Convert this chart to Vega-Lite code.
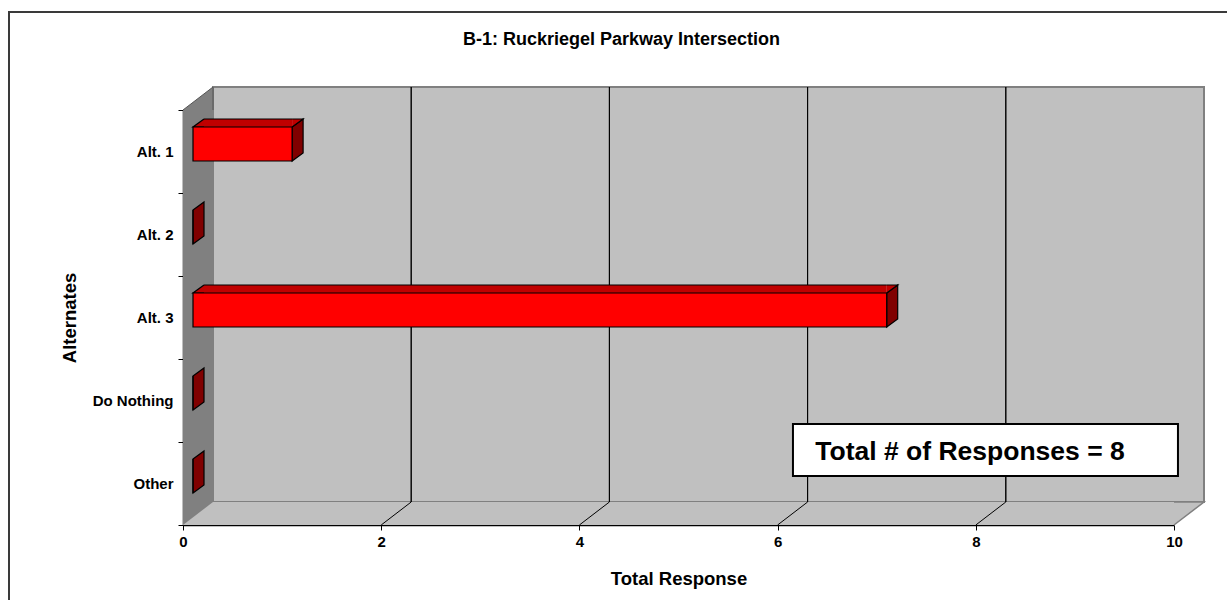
{
  "$schema": "https://vega.github.io/schema/vega-lite/v6.json",
  "width": 991,
  "height": 415,
  "autosize": {"type": "none"},
  "padding": {"left": 183, "top": 110, "right": 53, "bottom": 75},
  "background": "#ffffff",
  "config": {
    "view": {"stroke": null},
    "font": "Liberation Sans",
    "title": {"font": "Liberation Sans"},
    "axis": {
      "grid": false, "tickSize": 5, "tickColor": "#000000", "domainColor": "#000000", "domainWidth": 1.5,
      "labelFontSize": 15, "labelFontWeight": "bold", "labelColor": "#000000",
      "titleFontSize": 18.5, "titleFontWeight": "bold", "titleColor": "#000000"
    },
    "axisX": {"labelPadding": 4, "titlePadding": 20, "labelAngle": 0, "labelFlush": false},
    "axisY": {"labelPadding": 5, "titlePadding": 13, "tickBand": "extent"}
  },
  "title": {
    "text": "B-1: Ruckriegel Parkway Intersection",
    "fontSize": 18,
    "fontWeight": "bold",
    "color": "#000000",
    "anchor": "middle",
    "baseline": "alphabetic",
    "dx": -57,
    "offset": -52
  },
  "data": {
    "values": [
      {"alt": "Alt. 1", "n": 1},
      {"alt": "Alt. 2", "n": 0},
      {"alt": "Alt. 3", "n": 7},
      {"alt": "Do Nothing", "n": 0},
      {"alt": "Other", "n": 0}
    ]
  },
  "layer": [
    {
      "data": {"values": [{"alt": "Alt. 3"}]},
      "mark": {"type": "bar", "height": 800, "yOffset": 94.5, "xOffset": -174, "x2Offset": 120,
               "fill": "transparent", "stroke": "#3a3a3a", "strokeWidth": 2},
      "encoding": {
        "x": {"datum": 0, "type": "quantitative"},
        "x2": {"datum": 10},
        "y": {"field": "alt", "type": "nominal"}
      }
    },
    {
      "data": {"values": [{"alt": "Alt. 3"}]},
      "mark": {"type": "bar", "height": 415, "yOffset": -23, "xOffset": 30, "x2Offset": 30,
               "fill": "#c0c0c0", "stroke": "#808080", "strokeWidth": 2},
      "encoding": {
        "x": {"datum": 0, "type": "quantitative"},
        "x2": {"datum": 10},
        "y": {"field": "alt", "type": "nominal"}
      }
    },
    {
      "data": {"values": [{"t": 2, "alt": "Alt. 3"}, {"t": 4, "alt": "Alt. 3"}, {"t": 6, "alt": "Alt. 3"}, {"t": 8, "alt": "Alt. 3"}]},
      "mark": {"type": "bar", "height": 415, "yOffset": -23, "xOffset": 30, "x2Offset": 30,
               "fill": "transparent", "stroke": "#000000", "strokeWidth": 1},
      "encoding": {
        "x": {"field": "t", "type": "quantitative"},
        "x2": {"field": "t"},
        "y": {"field": "alt", "type": "nominal"}
      }
    },
    {
      "data": {"values": [{}]},
      "mark": {"type": "rect", "fill": "#808080", "x2Offset": 30},
      "encoding": {
        "x": {"datum": 0, "type": "quantitative"},
        "x2": {"datum": 0}
      }
    },
    {
      "data": {"values": [{"alt": "Alt. 1"}]},
      "mark": {"type": "point", "shape": "M0,-41.5 L30,-64.5 L30,-41.5", "size": 4, "filled": true,
               "fill": "#808080", "stroke": "#555555", "strokeWidth": 1, "opacity": 1},
      "encoding": {
        "x": {"datum": 0, "type": "quantitative"},
        "y": {"field": "alt", "type": "nominal"}
      }
    },
    {
      "data": {"values": [{"alt": "Other"}]},
      "mark": {"type": "bar", "height": 23, "yOffset": 30, "xOffset": 30, "fill": "#c0c0c0", "strokeWidth": 0},
      "encoding": {
        "x": {"datum": 0, "type": "quantitative"},
        "x2": {"datum": 10},
        "y": {"field": "alt", "type": "nominal"}
      }
    },
    {
      "data": {"values": [{"alt": "Other"}]},
      "mark": {"type": "point", "shape": "M0,41.5 L30,18.5 L30,41.5 Z", "size": 4, "filled": true,
               "fill": "#c0c0c0", "strokeWidth": 0, "opacity": 1},
      "encoding": {
        "x": {"datum": 0, "type": "quantitative"},
        "y": {"field": "alt", "type": "nominal"}
      }
    },
    {
      "data": {"values": [{"alt": "Other"}]},
      "mark": {"type": "point", "shape": "M0,18.5 L30,18.5 L0,41.5", "size": 4, "filled": true,
               "fill": "#c0c0c0", "stroke": "#808080", "strokeWidth": 1.5, "opacity": 1},
      "encoding": {
        "x": {"datum": 10, "type": "quantitative"},
        "y": {"field": "alt", "type": "nominal"}
      }
    },
    {
      "data": {"values": [{"t": 2, "alt": "Other"}, {"t": 4, "alt": "Other"}, {"t": 6, "alt": "Other"}, {"t": 8, "alt": "Other"}]},
      "mark": {"type": "point", "shape": "M0,41.5 L30,18.5", "size": 4, "filled": false,
               "color": "#000000", "strokeWidth": 1, "opacity": 1},
      "encoding": {
        "x": {"field": "t", "type": "quantitative"},
        "y": {"field": "alt", "type": "nominal"}
      }
    },
    {
      "mark": {"type": "point", "shape": "M10,-24.5 L21,-32.5 L21,1.5 L10,9.5 Z", "size": 4, "filled": true,
               "fill": "#800000", "stroke": "#000000", "strokeWidth": 1.2, "opacity": 1},
      "encoding": {
        "x": {"field": "n", "type": "quantitative"},
        "y": {"field": "alt", "type": "nominal"}
      }
    },
    {
      "transform": [{"filter": "datum.n > 0"}],
      "mark": {"type": "bar", "height": 8, "yOffset": -28.5, "xOffset": 10, "x2Offset": 21,
               "fill": "#c00000", "strokeWidth": 0},
      "encoding": {
        "x": {"field": "n", "type": "quantitative"},
        "x2": {"datum": 0},
        "y": {"field": "alt", "type": "nominal"}
      }
    },
    {
      "transform": [{"filter": "datum.n > 0"}],
      "mark": {"type": "point", "shape": "M21,-24.5 L10,-24.5 L21,-32.5", "size": 4, "filled": true,
               "fill": "#c00000", "stroke": "#000000", "strokeWidth": 1.2, "opacity": 1},
      "encoding": {
        "x": {"datum": 0, "type": "quantitative"},
        "y": {"field": "alt", "type": "nominal"}
      }
    },
    {
      "transform": [{"filter": "datum.n > 0"}],
      "mark": {"type": "point", "shape": "M10,-24.5 L21,-32.5 L10,-32.5", "size": 4, "filled": true,
               "fill": "#c00000", "stroke": "#000000", "strokeWidth": 1.2, "opacity": 1},
      "encoding": {
        "x": {"field": "n", "type": "quantitative"},
        "y": {"field": "alt", "type": "nominal"}
      }
    },
    {
      "transform": [{"filter": "datum.n > 0"}],
      "mark": {"type": "rule", "stroke": "#000000", "strokeWidth": 1.2, "xOffset": 10, "x2Offset": 21, "yOffset": -32.5},
      "encoding": {
        "x": {"field": "n", "type": "quantitative"},
        "x2": {"datum": 0},
        "y": {"field": "alt", "type": "nominal"}
      }
    },
    {
      "mark": {"type": "bar", "height": 34, "yOffset": -7.5, "xOffset": 10, "x2Offset": 10,
               "fill": "#ff0000", "stroke": "#000000", "strokeWidth": 1.2},
      "encoding": {
        "x": {
          "field": "n", "type": "quantitative",
          "scale": {"domain": [0, 10], "nice": false},
          "axis": {"title": "Total Response", "values": [0, 2, 4, 6, 8, 10], "format": "d"}
        },
        "x2": {"datum": 0},
        "y": {
          "field": "alt", "type": "nominal",
          "scale": {"domain": ["Alt. 1", "Alt. 2", "Alt. 3", "Do Nothing", "Other"], "paddingInner": 0, "paddingOuter": 0},
          "axis": {"title": "Alternates"}
        }
      }
    },
    {
      "data": {"values": [{"alt": "Other"}]},
      "mark": {"type": "bar", "height": 52, "yOffset": -33.5, "fill": "#ffffff", "stroke": "#000000", "strokeWidth": 2},
      "encoding": {
        "x": {"datum": 6.155, "type": "quantitative"},
        "x2": {"datum": 10.04},
        "y": {"field": "alt", "type": "nominal"}
      }
    },
    {
      "data": {"values": [{"alt": "Other", "label": "Total # of Responses = 8"}]},
      "mark": {"type": "text", "align": "left", "baseline": "alphabetic",
               "yOffset": -23.5, "fontSize": 26.5, "fontWeight": "bold", "color": "#000000"},
      "encoding": {
        "x": {"datum": 6.38, "type": "quantitative"},
        "y": {"field": "alt", "type": "nominal"},
        "text": {"field": "label"}
      }
    }
  ]
}
